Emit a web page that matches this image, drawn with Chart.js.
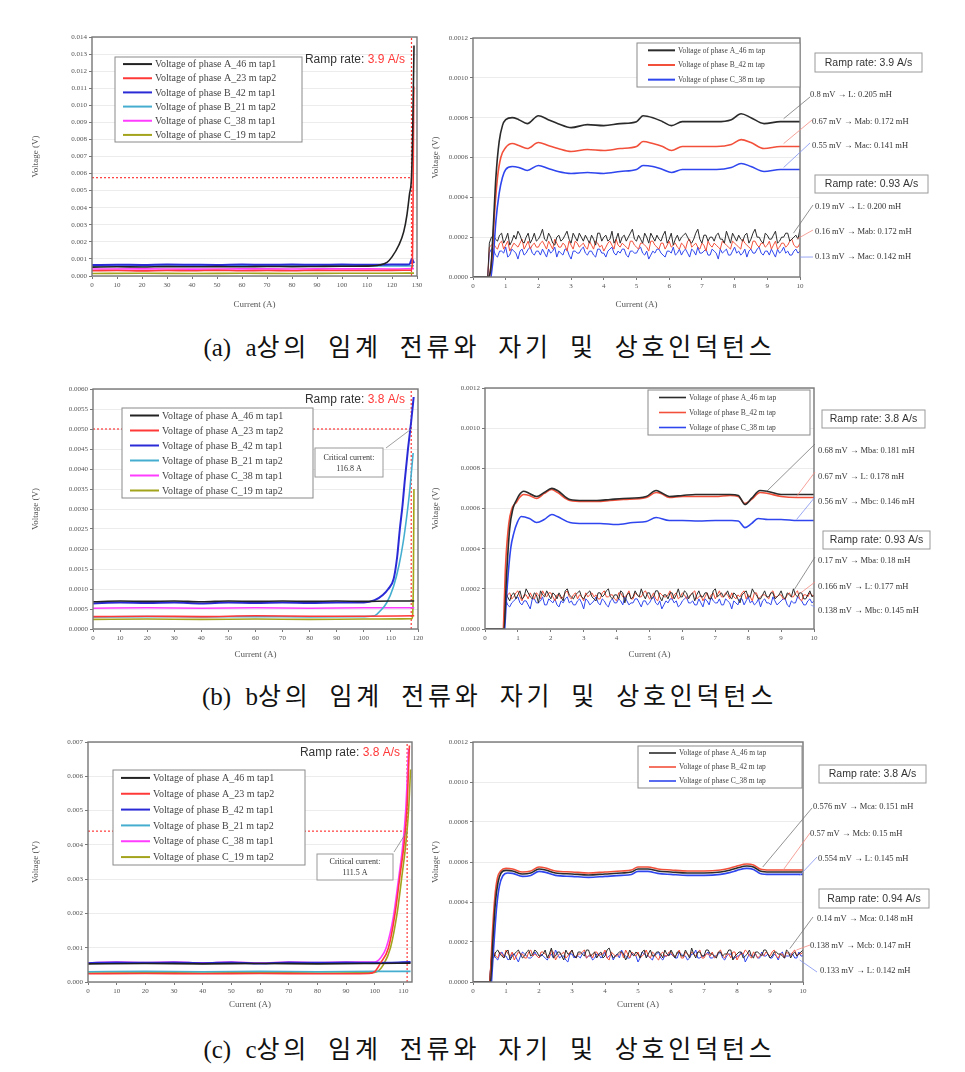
<!DOCTYPE html>
<html>
<head>
<meta charset="utf-8">
<script src="https://cdn.jsdelivr.net/npm/chart.js@4.4.1/dist/chart.umd.min.js"></script>
<style>
  body { margin: 0; background: #fff; width: 965px; height: 1072px; position: relative; overflow: hidden; }
  canvas { position: absolute; }
  .cap {
    position: absolute; left: 7px; width: 965px; text-align: center;
    font-family: 'Liberation Serif', 'Noto Sans CJK KR', serif;
    font-size: 25px; line-height: 28px; letter-spacing: 3.8px; word-spacing: 8px; color: #111;
  }
  .cap span { letter-spacing: 0; }
</style>
</head>
<body>
<canvas id="aLeft"  width="400" height="310" style="left:30px;top:0px"></canvas>
<canvas id="aRight" width="530" height="310" style="left:430px;top:0px"></canvas>
<div class="cap" style="top:334px"><span>(a) a</span>상의 임계 전류와 자기 및 상호인덕턴스</div>
<canvas id="bLeft"  width="400" height="300" style="left:30px;top:360px"></canvas>
<canvas id="bRight" width="530" height="300" style="left:430px;top:360px"></canvas>
<div class="cap" style="top:683px"><span>(b) b</span>상의 임계 전류와 자기 및 상호인덕턴스</div>
<canvas id="cLeft"  width="400" height="300" style="left:30px;top:710px"></canvas>
<canvas id="cRight" width="530" height="300" style="left:430px;top:710px"></canvas>
<div class="cap" style="top:1036px"><span>(c) c</span>상의 임계 전류와 자기 및 상호인덕턴스</div>

<script>
// ── left panels: voltage (V) vs current (A), [current, voltage] pairs ──
const PA_A46_T1 = [[0,0.00052],[10,0.00054],[20,0.00053],[30,0.00055],[40,0.00054],[50,0.00055],[60,0.00054],[70,0.00056],[80,0.00055],[90,0.00056],[100,0.00057],[110,0.00058],[115,0.00064],[118,0.0008],[120,0.00112],[122.7,0.0018],[124.7,0.0026],[126,0.0036],[127,0.0048],[127.8,0.0058],[128.3,0.0086],[128.8,0.0135]];
const PA_A23_T2 = [[0,0.00031],[10,0.00032],[20,0.0003],[30,0.00032],[40,0.00031],[50,0.00033],[60,0.00031],[70,0.00032],[80,0.00031],[90,0.00033],[100,0.00032],[110,0.00032],[120,0.00033],[127.5,0.00034],[128.1,0.0006],[128.4,0.004],[128.7,0.0111]];
const PA_B42_T1 = [[0,0.00064],[10,0.00066],[20,0.00065],[30,0.00067],[40,0.00066],[50,0.00065],[60,0.00067],[70,0.00066],[80,0.00067],[90,0.00066],[100,0.00067],[110,0.00066],[120,0.00067],[127,0.00069],[128,0.001],[128.8,0.00075]];
const PA_B21_T2 = [[0,0.00058],[20,0.00059],[40,0.00058],[60,0.0006],[80,0.00059],[100,0.0006],[120,0.00059],[128.8,0.0006]];
const PA_C38_T1 = [[0,0.00041],[20,0.00042],[40,0.0004],[60,0.00042],[80,0.00041],[100,0.00042],[120,0.00041],[128.8,0.00043]];
const PA_C19_T2 = [[0,0.00015],[20,0.00016],[40,0.00015],[60,0.00016],[80,0.00015],[100,0.00016],[120,0.00016],[128.8,0.00017]];
const PA_CRIT = [127.8, 0.00576];

const PB_A46_T1 = [[0,0.00068],[10,0.0007],[20,0.00069],[30,0.0007],[40,0.00068],[50,0.0007],[60,0.00069],[70,0.0007],[80,0.00069],[90,0.0007],[100,0.00069],[110,0.0007],[118.6,0.0007]];
const PB_A23_T2 = [[0,0.00031],[20,0.00032],[40,0.00031],[60,0.00033],[80,0.00032],[100,0.00032],[118.6,0.00033]];
const PB_B42_T1 = [[0,0.00064],[10,0.00066],[20,0.00065],[30,0.00066],[40,0.00064],[50,0.00066],[60,0.00065],[70,0.00066],[80,0.00065],[90,0.00066],[100,0.00066],[104,0.00072],[107,0.00085],[109,0.001],[111,0.00125],[112.3,0.0018],[113.3,0.0025],[114.3,0.0031],[115.1,0.0037],[116.3,0.0045],[117.5,0.0052],[118.4,0.0058]];
const PB_B21_T2 = [[0,0.0003],[20,0.00031],[40,0.0003],[60,0.00031],[80,0.0003],[100,0.00031],[104,0.00033],[106,0.00045],[108.4,0.00065],[111,0.00107],[113,0.0016],[114.6,0.0022],[116,0.0029],[117,0.0035],[118.2,0.0044]];
const PB_C38_T1 = [[0,0.00052],[20,0.00053],[40,0.00052],[60,0.00053],[80,0.00052],[100,0.00053],[118.6,0.00053]];
const PB_C19_T2 = [[0,0.00024],[20,0.00025],[40,0.00024],[60,0.00025],[80,0.00024],[100,0.00025],[117.8,0.00026],[118.3,0.0012],[118.5,0.0035]];
const PB_CRIT = [117.5, 0.005];

const PC_A46_T1 = [[0,0.00053],[20,0.00054],[40,0.00053],[60,0.00054],[80,0.00053],[100,0.00054],[112.5,0.00055]];
const PC_A23_T2 = [[0,0.00024],[20,0.00025],[40,0.00024],[60,0.00025],[80,0.00024],[98,0.00025],[100,0.0003],[102,0.00055],[104.8,0.001],[107.1,0.002],[108.8,0.0031],[110.2,0.004],[111.2,0.005],[112.1,0.0069]];
const PC_B42_T1 = [[0,0.00055],[10,0.00057],[20,0.00056],[30,0.00057],[40,0.00055],[50,0.00057],[60,0.00054],[70,0.00057],[80,0.00056],[90,0.00057],[100,0.00056],[112.5,0.00058]];
const PC_B21_T2 = [[0,0.0003],[20,0.00031],[40,0.0003],[60,0.00031],[80,0.0003],[100,0.00031],[112.5,0.00031]];
const PC_C38_T1 = [[0,0.00056],[10,0.00058],[20,0.00057],[30,0.00058],[40,0.00056],[50,0.00058],[60,0.00055],[70,0.00058],[80,0.00057],[90,0.00058],[100,0.00058],[102,0.0007],[104,0.001],[106.5,0.0019],[108.3,0.003],[109.8,0.004],[110.8,0.005],[111.8,0.0068]];
const PC_C19_T2 = [[0,0.00026],[20,0.00027],[40,0.00026],[60,0.00027],[80,0.00026],[100,0.00028],[103,0.0005],[105.5,0.001],[107.8,0.002],[109.5,0.0031],[110.8,0.004],[111.8,0.005],[112.5,0.0062]];
const PC_CRIT = [111.3, 0.0044];

// ── right panels: fast ramp traces, [current A, voltage mV] ──
const RA_A46 = [[0,0],[0.45,0],[0.55,0.05],[0.62,0.25],[0.7,0.5],[0.8,0.68],[0.9,0.76],[1.0,0.79],[1.2,0.8],[1.4,0.79],[1.66,0.77],[2.0,0.81],[2.3,0.79],[2.6,0.77],[3.0,0.75],[3.5,0.765],[4.0,0.76],[4.5,0.77],[5.0,0.78],[5.2,0.81],[5.5,0.8],[5.8,0.78],[6.07,0.76],[6.4,0.78],[7.0,0.78],[7.45,0.78],[7.9,0.79],[8.2,0.82],[8.5,0.8],[8.9,0.77],[9.4,0.78],[10,0.78]];
const RA_B42 = [[0.5,0],[0.58,0.1],[0.65,0.3],[0.75,0.5],[0.85,0.6],[1.0,0.65],[1.2,0.67],[1.4,0.66],[1.66,0.645],[2.0,0.675],[2.3,0.66],[2.6,0.645],[3.0,0.63],[3.5,0.64],[4.0,0.635],[4.5,0.645],[5.0,0.655],[5.2,0.68],[5.5,0.67],[5.8,0.655],[6.07,0.635],[6.4,0.655],[7.0,0.655],[7.45,0.655],[7.9,0.665],[8.2,0.69],[8.5,0.675],[8.9,0.645],[9.4,0.655],[10,0.655]];
const RA_C38 = [[0.55,0],[0.62,0.1],[0.7,0.28],[0.8,0.42],[0.9,0.5],[1.0,0.54],[1.2,0.555],[1.4,0.55],[1.66,0.535],[2.0,0.56],[2.3,0.545],[2.6,0.53],[3.0,0.52],[3.5,0.525],[4.0,0.52],[4.5,0.53],[5.0,0.54],[5.2,0.56],[5.5,0.555],[5.8,0.54],[6.07,0.525],[6.4,0.54],[7.0,0.54],[7.45,0.54],[7.9,0.55],[8.2,0.57],[8.5,0.555],[8.9,0.53],[9.4,0.54],[10,0.54]];

const RB_A46 = [[0,0],[0.58,0],[0.65,0.25],[0.75,0.5],[0.85,0.6],[0.95,0.64],[1.05,0.67],[1.17,0.686],[1.35,0.675],[1.57,0.66],[1.8,0.68],[2.03,0.7],[2.2,0.69],[2.58,0.645],[3.0,0.64],[3.4,0.64],[3.8,0.645],[4.2,0.65],[4.9,0.66],[5.2,0.69],[5.35,0.68],[5.6,0.66],[6.0,0.665],[6.4,0.67],[7.0,0.67],[7.45,0.67],[7.7,0.665],[7.9,0.62],[8.1,0.65],[8.36,0.69],[8.6,0.685],[9.0,0.67],[9.5,0.67],[10,0.67]];
const RB_B42 = [[0.56,0],[0.62,0.3],[0.72,0.52],[0.82,0.6],[0.95,0.63],[1.05,0.655],[1.17,0.67],[1.35,0.665],[1.57,0.65],[1.8,0.675],[2.03,0.695],[2.2,0.68],[2.58,0.64],[3.0,0.635],[3.4,0.635],[3.8,0.64],[4.2,0.645],[4.9,0.655],[5.2,0.68],[5.35,0.675],[5.6,0.655],[6.0,0.66],[6.4,0.66],[7.0,0.66],[7.45,0.665],[7.7,0.66],[7.9,0.625],[8.1,0.645],[8.36,0.68],[8.6,0.675],[9.0,0.66],[9.5,0.655],[10,0.655]];
const RB_C38 = [[0.6,0],[0.68,0.22],[0.78,0.4],[0.88,0.48],[0.98,0.53],[1.1,0.56],[1.35,0.55],[1.57,0.53],[1.8,0.545],[2.03,0.57],[2.2,0.56],[2.58,0.53],[3.0,0.525],[3.5,0.525],[4.0,0.52],[4.5,0.53],[4.9,0.535],[5.2,0.555],[5.6,0.54],[6.0,0.54],[6.5,0.538],[7.0,0.54],[7.5,0.54],[7.7,0.538],[7.9,0.505],[8.1,0.525],[8.3,0.55],[8.6,0.545],[9.0,0.545],[9.5,0.54],[10,0.54]];

const RC_A46 = [[0,0],[0.53,0],[0.6,0.2],[0.68,0.4],[0.76,0.5],[0.85,0.545],[1.0,0.558],[1.2,0.555],[1.5,0.54],[1.75,0.545],[2.0,0.565],[2.2,0.56],[2.5,0.545],[3.0,0.54],[3.5,0.535],[4.0,0.54],[4.5,0.545],[4.8,0.55],[5.0,0.565],[5.3,0.565],[5.6,0.555],[6.0,0.55],[6.5,0.545],[7.0,0.545],[7.5,0.55],[7.8,0.56],[8.0,0.57],[8.3,0.58],[8.5,0.575],[8.7,0.555],[9.0,0.55],[9.5,0.55],[10,0.55]];
const RC_B42 = [[0.52,0],[0.58,0.22],[0.66,0.42],[0.74,0.52],[0.84,0.555],[1.0,0.568],[1.2,0.565],[1.5,0.55],[1.75,0.555],[2.0,0.575],[2.2,0.57],[2.5,0.555],[3.0,0.55],[3.5,0.545],[4.0,0.55],[4.5,0.555],[4.8,0.56],[5.0,0.575],[5.3,0.575],[5.6,0.565],[6.0,0.56],[6.5,0.555],[7.0,0.555],[7.5,0.56],[7.8,0.57],[8.0,0.58],[8.3,0.59],[8.5,0.585],[8.7,0.565],[9.0,0.56],[9.5,0.56],[10,0.56]];
const RC_C38 = [[0.56,0],[0.63,0.18],[0.72,0.38],[0.8,0.48],[0.9,0.53],[1.05,0.545],[1.2,0.543],[1.5,0.528],[1.75,0.533],[2.0,0.553],[2.2,0.548],[2.5,0.533],[3.0,0.528],[3.5,0.523],[4.0,0.528],[4.5,0.533],[4.8,0.538],[5.0,0.553],[5.3,0.553],[5.6,0.543],[6.0,0.538],[6.5,0.533],[7.0,0.533],[7.5,0.538],[7.8,0.548],[8.0,0.558],[8.3,0.568],[8.5,0.563],[8.7,0.543],[9.0,0.538],[9.5,0.538],[10,0.538]];

// ── slow ramp (noisy) traces, mV; samples at NOISE_I plus in-between samples at NOISE_I_MID ──
const NOISE_I = [0.5,0.625,0.75,0.875,1,1.125,1.25,1.375,1.5,1.625,1.75,
  1.875,2,2.125,2.25,2.375,2.5,2.625,2.75,2.875,3,3.125,
  3.25,3.375,3.5,3.625,3.75,3.875,4,4.125,4.25,4.375,4.5,
  4.625,4.75,4.875,5,5.125,5.25,5.375,5.5,5.625,5.75,5.875,
  6,6.125,6.25,6.375,6.5,6.625,6.75,6.875,7,7.125,7.25,
  7.375,7.5,7.625,7.75,7.875,8,8.125,8.25,8.375,8.5,8.625,
  8.75,8.875,9,9.125,9.25,9.375,9.5,9.625,9.75,9.875,10];
const NOISE_I_MID = [0.5625,0.6875,0.8125,0.9375,1.0625,1.1875,1.3125,1.4375,1.5625,1.6875,1.8125,
  1.9375,2.0625,2.1875,2.3125,2.4375,2.5625,2.6875,2.8125,2.9375,3.0625,3.1875,
  3.3125,3.4375,3.5625,3.6875,3.8125,3.9375,4.0625,4.1875,4.3125,4.4375,4.5625,
  4.6875,4.8125,4.9375,5.0625,5.1875,5.3125,5.4375,5.5625,5.6875,5.8125,5.9375,
  6.0625,6.1875,6.3125,6.4375,6.5625,6.6875,6.8125,6.9375,7.0625,7.1875,7.3125,
  7.4375,7.5625,7.6875,7.8125,7.9375,8.0625,8.1875,8.3125,8.4375,8.5625,8.6875,
  8.8125,8.9375,9.0625,9.1875,9.3125,9.4375,9.5625,9.6875,9.8125,9.9375];

const NA_A46 = [0.17,0.21,0.18,0.22,0.19,0.16,0.21,0.23,0.18,0.20,0.17,
  0.22,0.19,0.24,0.18,0.20,0.16,0.21,0.19,0.23,0.17,0.20,
  0.22,0.18,0.19,0.21,0.16,0.22,0.20,0.18,0.23,0.19,0.17,
  0.21,0.20,0.24,0.18,0.19,0.22,0.17,0.20,0.21,0.18,0.23,
  0.19,0.16,0.21,0.20,0.22,0.18,0.19,0.24,0.17,0.21,0.20,
  0.18,0.22,0.19,0.23,0.17,0.20,0.21,0.18,0.22,0.19,0.24,
  0.20,0.17,0.21,0.19,0.23,0.18,0.20,0.22,0.19,0.21,0.24];
const NA_A46_M = [0.20,0.19,0.21,0.17,0.22,0.18,0.19,0.21,0.17,0.22,0.19,
  0.18,0.21,0.19,0.22,0.17,0.20,0.18,0.21,0.19,0.22,0.18,
  0.20,0.21,0.17,0.19,0.22,0.18,0.21,0.19,0.17,0.22,0.20,
  0.18,0.22,0.19,0.21,0.17,0.20,0.22,0.18,0.19,0.21,0.17,
  0.22,0.19,0.18,0.21,0.20,0.17,0.22,0.19,0.21,0.18,0.20,
  0.21,0.19,0.17,0.20,0.22,0.18,0.19,0.21,0.17,0.22,0.20,
  0.18,0.22,0.19,0.21,0.17,0.20,0.22,0.18,0.20,0.19];
const NA_B42 = [0.15,0.17,0.14,0.18,0.16,0.13,0.17,0.15,0.19,0.16,0.14,
  0.17,0.15,0.18,0.14,0.16,0.19,0.15,0.17,0.13,0.16,0.18,
  0.15,0.17,0.14,0.16,0.18,0.15,0.13,0.17,0.16,0.19,0.15,
  0.16,0.14,0.18,0.15,0.17,0.16,0.13,0.18,0.15,0.17,0.14,
  0.18,0.16,0.15,0.17,0.14,0.19,0.16,0.15,0.17,0.13,0.16,
  0.17,0.15,0.18,0.16,0.14,0.17,0.15,0.19,0.16,0.14,0.18,
  0.15,0.17,0.16,0.14,0.18,0.15,0.17,0.16,0.19,0.15,0.17];
const NA_B42_M = [0.16,0.15,0.17,0.14,0.18,0.15,0.16,0.17,0.14,0.18,0.16,
  0.15,0.17,0.16,0.18,0.14,0.17,0.15,0.16,0.18,0.14,0.17,
  0.16,0.15,0.18,0.14,0.17,0.16,0.15,0.18,0.14,0.16,0.17,
  0.15,0.18,0.16,0.14,0.17,0.15,0.18,0.16,0.14,0.17,0.16,
  0.15,0.17,0.14,0.16,0.18,0.15,0.17,0.14,0.16,0.18,0.15,
  0.16,0.14,0.17,0.15,0.18,0.16,0.14,0.17,0.15,0.18,0.16,
  0.17,0.15,0.18,0.16,0.14,0.17,0.15,0.18,0.16,0.15];
const NA_C38 = [0.12,0.14,0.10,0.13,0.15,0.11,0.13,0.09,0.14,0.12,0.15,
  0.11,0.13,0.14,0.10,0.12,0.15,0.13,0.11,0.14,0.09,0.13,
  0.12,0.15,0.11,0.13,0.10,0.14,0.12,0.13,0.15,0.11,0.12,
  0.14,0.10,0.13,0.12,0.15,0.11,0.09,0.13,0.14,0.12,0.10,
  0.13,0.15,0.12,0.11,0.14,0.10,0.13,0.15,0.12,0.14,0.11,
  0.13,0.09,0.12,0.14,0.11,0.15,0.13,0.12,0.10,0.14,0.12,
  0.15,0.11,0.13,0.14,0.10,0.12,0.15,0.13,0.11,0.14,0.13];
const NA_C38_M = [0.14,0.11,0.13,0.12,0.10,0.14,0.12,0.13,0.11,0.14,0.12,
  0.13,0.11,0.12,0.14,0.13,0.10,0.12,0.14,0.11,0.13,0.12,
  0.14,0.12,0.13,0.11,0.14,0.12,0.10,0.14,0.12,0.13,0.14,
  0.11,0.13,0.12,0.14,0.12,0.13,0.11,0.12,0.14,0.11,0.13,
  0.12,0.11,0.14,0.13,0.12,0.14,0.11,0.12,0.13,0.11,0.14,
  0.12,0.14,0.13,0.11,0.13,0.12,0.11,0.14,0.13,0.12,0.14,
  0.12,0.13,0.11,0.12,0.14,0.13,0.12,0.11,0.13,0.12];

const NB_A46 = [0.16,0.19,0.14,0.18,0.17,0.15,0.20,0.16,0.18,0.13,0.17,
  0.19,0.15,0.17,0.18,0.14,0.20,0.16,0.17,0.19,0.15,0.18,
  0.16,0.14,0.18,0.17,0.20,0.15,0.17,0.19,0.13,0.18,0.16,
  0.17,0.20,0.15,0.18,0.16,0.19,0.14,0.17,0.18,0.15,0.20,
  0.16,0.18,0.17,0.14,0.19,0.16,0.18,0.15,0.20,0.17,0.16,
  0.19,0.15,0.17,0.13,0.18,0.16,0.20,0.17,0.15,0.19,0.16,
  0.18,0.16,0.19,0.15,0.17,0.20,0.16,0.18,0.15,0.19,0.17];
const NB_A46_M = [0.18,0.16,0.17,0.15,0.19,0.16,0.18,0.15,0.17,0.19,0.16,
  0.17,0.18,0.15,0.16,0.19,0.17,0.15,0.18,0.16,0.17,0.19,
  0.15,0.18,0.16,0.19,0.16,0.17,0.15,0.18,0.17,0.15,0.19,
  0.16,0.17,0.18,0.15,0.19,0.16,0.17,0.15,0.18,0.17,0.16,
  0.19,0.15,0.18,0.17,0.16,0.18,0.15,0.19,0.16,0.18,0.17,
  0.16,0.18,0.15,0.17,0.19,0.16,0.18,0.15,0.17,0.16,0.18,
  0.15,0.17,0.16,0.18,0.16,0.17,0.18,0.15,0.17,0.16];
const NB_B42 = [0.17,0.15,0.18,0.16,0.19,0.14,0.17,0.18,0.15,0.17,0.19,
  0.16,0.18,0.14,0.17,0.16,0.19,0.15,0.18,0.17,0.14,0.16,
  0.18,0.17,0.15,0.19,0.16,0.17,0.14,0.18,0.16,0.19,0.15,
  0.17,0.16,0.19,0.15,0.18,0.14,0.17,0.16,0.19,0.17,0.15,
  0.18,0.15,0.17,0.19,0.16,0.14,0.18,0.17,0.15,0.19,0.16,
  0.17,0.18,0.15,0.16,0.19,0.17,0.14,0.18,0.16,0.17,0.15,
  0.19,0.16,0.17,0.15,0.18,0.16,0.19,0.14,0.17,0.18,0.16];
const NB_B42_M = [0.16,0.17,0.15,0.18,0.16,0.17,0.15,0.16,0.18,0.15,0.17,
  0.18,0.16,0.17,0.15,0.18,0.16,0.17,0.15,0.16,0.18,0.17,
  0.16,0.15,0.18,0.16,0.17,0.15,0.18,0.16,0.17,0.15,0.18,
  0.16,0.18,0.17,0.16,0.15,0.18,0.16,0.17,0.15,0.18,0.16,
  0.17,0.16,0.18,0.15,0.17,0.16,0.15,0.18,0.17,0.16,0.18,
  0.15,0.16,0.17,0.18,0.15,0.16,0.18,0.15,0.17,0.16,0.18,
  0.16,0.17,0.15,0.17,0.16,0.18,0.15,0.17,0.16,0.17];
const NB_C38 = [0.13,0.15,0.11,0.14,0.16,0.12,0.14,0.10,0.15,0.13,0.16,
  0.12,0.14,0.15,0.11,0.13,0.16,0.14,0.12,0.15,0.10,0.14,
  0.13,0.16,0.12,0.14,0.11,0.15,0.13,0.14,0.16,0.12,0.13,
  0.15,0.11,0.14,0.13,0.16,0.12,0.10,0.14,0.15,0.13,0.11,
  0.14,0.16,0.13,0.12,0.15,0.11,0.14,0.16,0.13,0.15,0.12,
  0.14,0.10,0.13,0.15,0.12,0.16,0.14,0.13,0.11,0.15,0.13,
  0.16,0.12,0.14,0.15,0.11,0.13,0.16,0.14,0.12,0.15,0.14];
const NB_C38_M = [0.14,0.12,0.13,0.15,0.13,0.14,0.12,0.15,0.13,0.14,0.12,
  0.15,0.13,0.12,0.14,0.15,0.13,0.12,0.14,0.13,0.15,0.12,
  0.14,0.13,0.15,0.12,0.14,0.13,0.15,0.12,0.14,0.13,0.15,
  0.13,0.14,0.12,0.15,0.13,0.14,0.12,0.13,0.15,0.14,0.12,
  0.15,0.13,0.14,0.12,0.13,0.15,0.12,0.14,0.13,0.12,0.15,
  0.13,0.14,0.12,0.15,0.14,0.13,0.12,0.15,0.14,0.13,0.12,
  0.14,0.13,0.15,0.12,0.14,0.13,0.15,0.12,0.14,0.13];

const NC_A46 = [0.14,0.12,0.16,0.13,0.15,0.11,0.14,0.16,0.12,0.15,0.13,
  0.16,0.13,0.14,0.12,0.17,0.13,0.15,0.11,0.14,0.16,0.12,
  0.15,0.13,0.16,0.14,0.12,0.15,0.13,0.17,0.12,0.14,0.15,
  0.11,0.16,0.13,0.14,0.15,0.12,0.16,0.13,0.15,0.12,0.14,
  0.16,0.12,0.15,0.13,0.14,0.17,0.12,0.15,0.13,0.16,0.14,
  0.12,0.15,0.14,0.16,0.11,0.14,0.15,0.13,0.16,0.12,0.15,
  0.13,0.16,0.12,0.15,0.14,0.13,0.16,0.12,0.15,0.14,0.16];
const NC_A46_M = [0.13,0.15,0.14,0.12,0.16,0.13,0.15,0.14,0.13,0.16,0.14,
  0.15,0.13,0.16,0.14,0.12,0.15,0.13,0.16,0.14,0.13,0.15,
  0.14,0.16,0.13,0.15,0.14,0.12,0.16,0.14,0.13,0.15,0.14,
  0.13,0.14,0.15,0.12,0.16,0.14,0.13,0.15,0.14,0.16,0.13,
  0.14,0.15,0.13,0.16,0.12,0.14,0.15,0.13,0.16,0.14,0.13,
  0.15,0.13,0.14,0.16,0.13,0.15,0.12,0.14,0.13,0.15,0.14,
  0.16,0.14,0.13,0.15,0.14,0.12,0.15,0.14,0.13,0.15];
const NC_B42 = [0.13,0.15,0.12,0.14,0.16,0.13,0.11,0.15,0.14,0.12,0.16,
  0.14,0.12,0.15,0.13,0.16,0.11,0.14,0.15,0.13,0.16,0.12,
  0.14,0.16,0.13,0.12,0.15,0.14,0.16,0.11,0.14,0.13,0.15,
  0.16,0.12,0.14,0.15,0.13,0.16,0.12,0.14,0.11,0.15,0.13,
  0.15,0.13,0.16,0.12,0.14,0.15,0.13,0.16,0.12,0.14,0.15,
  0.13,0.16,0.12,0.14,0.15,0.11,0.14,0.16,0.13,0.15,0.12,
  0.14,0.15,0.13,0.16,0.12,0.14,0.15,0.13,0.16,0.14,0.15];
const NC_B42_M = [0.14,0.13,0.15,0.12,0.14,0.15,0.13,0.14,0.12,0.15,0.13,
  0.13,0.15,0.14,0.12,0.15,0.13,0.14,0.12,0.15,0.13,0.14,
  0.15,0.12,0.14,0.15,0.13,0.14,0.12,0.15,0.13,0.14,0.12,
  0.14,0.15,0.13,0.12,0.14,0.13,0.15,0.12,0.14,0.13,0.15,
  0.13,0.14,0.12,0.15,0.13,0.14,0.15,0.12,0.14,0.13,0.12,
  0.15,0.13,0.14,0.12,0.15,0.13,0.14,0.15,0.12,0.14,0.13,
  0.13,0.14,0.15,0.13,0.14,0.12,0.14,0.15,0.13,0.14];
const NC_C38 = [0.12,0.14,0.11,0.15,0.13,0.12,0.14,0.10,0.15,0.13,0.12,
  0.15,0.12,0.13,0.11,0.14,0.16,0.12,0.13,0.10,0.14,0.13,
  0.12,0.15,0.13,0.11,0.14,0.12,0.15,0.13,0.11,0.14,0.16,
  0.13,0.12,0.14,0.10,0.15,0.13,0.12,0.14,0.15,0.11,0.13,
  0.14,0.12,0.15,0.13,0.11,0.14,0.16,0.12,0.13,0.15,0.12,
  0.13,0.15,0.11,0.14,0.12,0.13,0.15,0.10,0.14,0.13,0.12,
  0.15,0.13,0.12,0.14,0.11,0.15,0.13,0.14,0.12,0.15,0.13];
const NC_C38_M = [0.13,0.12,0.14,0.13,0.11,0.14,0.12,0.13,0.14,0.12,0.13,
  0.13,0.14,0.12,0.13,0.12,0.14,0.13,0.11,0.14,0.12,0.13,
  0.14,0.12,0.13,0.12,0.14,0.13,0.12,0.14,0.13,0.12,0.14,
  0.12,0.14,0.13,0.12,0.14,0.13,0.11,0.14,0.12,0.13,0.14,
  0.13,0.12,0.14,0.13,0.12,0.14,0.12,0.13,0.14,0.12,0.13,
  0.14,0.12,0.13,0.14,0.12,0.13,0.14,0.12,0.13,0.14,0.12,
  0.13,0.14,0.12,0.13,0.14,0.12,0.13,0.14,0.12,0.13];
const NOISE_START_A = 0.45, NOISE_START_B = 0.58, NOISE_START_C = 0.5;

const LEFT_LABELS  = ['Voltage of phase A_46 m tap1', 'Voltage of phase A_23 m tap2', 'Voltage of phase B_42 m tap1',
                      'Voltage of phase B_21 m tap2', 'Voltage of phase C_38 m tap1', 'Voltage of phase C_19 m tap2'];
const RIGHT_LABELS = ['Voltage of phase A_46 m tap', 'Voltage of phase B_42 m tap', 'Voltage of phase C_38 m tap'];

// ── style ──
const C = {
  black: '#222222', red: '#ff3838', blue: '#2a2ad6', cyan: '#45aed0', magenta: '#ff3cff', olive: '#a3a31c',
  rBlack: '#2b2b2b', rRed: '#f2503a', rBlue: '#2f46ee', text: '#333', axis: '#777'
};
Chart.defaults.font.family = "'Liberation Serif', 'Times New Roman', serif";
Chart.defaults.font.size = 7;
Chart.defaults.color = '#555';

const toXY = (pairs, k = 1) => pairs.map(([x, y]) => ({ x, y: y * k }));

function line(label, pairs, color, extra = {}) {
  return Object.assign({
    label, data: toXY(pairs, extra.k || 1), borderColor: color, backgroundColor: color,
    borderWidth: 1.6, pointRadius: 0, cubicInterpolationMode: 'monotone', fill: false
  }, extra);
}

function noise(label, start, vals, mids, color) {
  const pts = [];
  NOISE_I.forEach((x, i) => { if (x > start && vals[i] !== undefined) pts.push([x, vals[i]]); });
  NOISE_I_MID.forEach((x, i) => { if (x > start && mids[i] !== undefined) pts.push([x, mids[i]]); });
  pts.sort((a, b) => a[0] - b[0]);
  return line(label, [[0, 0], [start, 0]].concat(pts), color,
    { k: 1e-3, borderWidth: 1, cubicInterpolationMode: 'default', tension: 0 });
}

function critLines(crit, yMax) {
  const st = { borderWidth: 1.2, borderDash: [2, 2], cubicInterpolationMode: 'default', tension: 0 };
  return [
    line('_critH', [[0, crit[1]], [crit[0], crit[1]]], C.red, st),
    line('_critV', [[crit[0], 0], [crit[0], yMax]], C.red, st)
  ];
}

// ── plugins ──
const framePlugin = {
  id: 'frame',
  afterDraw(chart) {
    const { ctx, chartArea: a } = chart;
    ctx.save();
    ctx.strokeStyle = C.axis;
    ctx.lineWidth = 1.4;
    ctx.strokeRect(a.left, a.top, a.right - a.left, a.bottom - a.top);
    ctx.restore();
  }
};

const boxLegendPlugin = {
  id: 'boxLegend',
  afterDraw(chart, args, o) {
    if (!o || !o.w) return;
    const ctx = chart.ctx;
    const items = chart.data.datasets.filter(d => !d.label.startsWith('_'));
    ctx.save();
    ctx.fillStyle = '#fff';
    ctx.fillRect(o.x, o.y, o.w, o.h);
    ctx.strokeStyle = '#8a8a8a';
    ctx.lineWidth = 1;
    ctx.strokeRect(o.x, o.y, o.w, o.h);
    const rowH = o.h / items.length;
    ctx.font = o.font;
    ctx.textBaseline = 'middle';
    items.forEach((d, i) => {
      const cy = o.y + rowH * (i + 0.5);
      ctx.strokeStyle = d.borderColor;
      ctx.lineWidth = o.lineW;
      ctx.beginPath();
      ctx.moveTo(o.x + o.l0, cy);
      ctx.lineTo(o.x + o.l1, cy);
      ctx.stroke();
      ctx.fillStyle = '#444';
      ctx.fillText(d.label, o.x + o.tx, cy + 0.5);
    });
    ctx.restore();
  }
};

const notesPlugin = {
  id: 'notes',
  afterDraw(chart, args, o) {
    if (!o) return;
    const { ctx, scales: { x, y } } = chart;
    ctx.save();
    (o.leaders || []).forEach(l => {
      ctx.strokeStyle = l.color;
      ctx.lineWidth = 0.8;
      ctx.beginPath();
      ctx.moveTo(x.getPixelForValue(l.at[0]), y.getPixelForValue(l.at[1]));
      ctx.lineTo(l.to[0], l.to[1]);
      ctx.stroke();
    });
    (o.boxes || []).forEach(b => {
      ctx.fillStyle = '#fff';
      ctx.fillRect(b.x, b.y, b.w, b.h);
      ctx.strokeStyle = '#9a9a9a';
      ctx.lineWidth = 1;
      ctx.strokeRect(b.x, b.y, b.w, b.h);
    });
    ctx.textBaseline = 'middle';
    (o.texts || []).forEach(t => {
      ctx.font = t.font || o.font;
      ctx.fillStyle = t.color || C.text;
      ctx.textAlign = t.align || 'left';
      ctx.fillText(t.text, t.x, t.y);
    });
    (o.rich || []).forEach(r => {
      ctx.font = r.font;
      ctx.textAlign = 'left';
      const total = r.parts.reduce((s, p) => s + ctx.measureText(p.t).width, 0);
      let px = r.x - total;
      r.parts.forEach(p => {
        ctx.fillStyle = p.c;
        ctx.fillText(p.t, px, r.y);
        px += ctx.measureText(p.t).width;
      });
    });
    ctx.restore();
  }
};

// ── panel factory ──
function makePanel(id, p) {
  const el = document.getElementById(id);
  // ticks at whole multiples of the step, up to the axis maximum
  const stepTicks = (max, step) => s => {
    const t = [];
    for (let i = 0; i * step <= max + 1e-9; i++) t.push({ value: +(i * step).toFixed(6) });
    s.ticks = t;
  };
  return new Chart(el, {
    type: 'line',
    data: { datasets: p.datasets },
    plugins: [framePlugin, boxLegendPlugin, notesPlugin],
    options: {
      responsive: false,
      animation: false,
      events: [],
      layout: { padding: { top: p.padTop, right: p.padRight, left: 0, bottom: 0 } },
      plugins: {
        legend: { display: false },
        tooltip: { enabled: false },
        boxLegend: p.legend,
        notes: p.notes
      },
      scales: {
        x: {
          type: 'linear', min: 0, max: p.xMax,
          afterFit: s => { s.height = p.xAxisH; },
          afterBuildTicks: stepTicks(p.xMax, p.xStep),
          ticks: { padding: 2, color: '#555', font: { size: 7 }, maxRotation: 0, autoSkip: false },
          grid: { drawOnChartArea: false, tickLength: 3, color: '#777' },
          border: { display: false },
          title: { display: true, text: 'Current (A)', color: '#555', font: { size: 9 }, padding: { top: 1, bottom: 0 } }
        },
        y: {
          type: 'linear', min: 0, max: p.yMax,
          afterFit: s => { s.width = p.yAxisW; },
          afterBuildTicks: stepTicks(p.yMax, p.yStep),
          ticks: { padding: 2, color: '#555', font: { size: 7 }, autoSkip: false, callback: v => v.toFixed(p.yDigits) },
          grid: { color: '#ececec', tickLength: 3, tickColor: '#777' },
          border: { display: false },
          title: { display: true, text: 'Voltage (V)', color: '#555', font: { size: 9 }, padding: { top: 0, bottom: 1 } }
        }
      }
    }
  });
}

const LEFT_LEGEND_FONT = "10px 'Liberation Serif'";
const RIGHT_LEGEND_FONT = "7.5px 'Liberation Serif'";
const NOTE_FONT = "8.5px 'Liberation Serif'";
const RAMP_FONT = "12px 'Liberation Sans'";
const BOX_FONT = "10.5px 'Liberation Sans'";

function leftSeries(s, crit, yMax) {
  return [
    line(LEFT_LABELS[0], s[0], C.black),
    line(LEFT_LABELS[1], s[1], C.red),
    line(LEFT_LABELS[2], s[2], C.blue, { borderWidth: 2 }),
    line(LEFT_LABELS[3], s[3], C.cyan),
    line(LEFT_LABELS[4], s[4], C.magenta),
    line(LEFT_LABELS[5], s[5], C.olive)
  ].concat(critLines(crit, yMax));
}

function rightSeries(fast, slow, mids, start) {
  return [
    line(RIGHT_LABELS[0], fast[0], C.rBlack, { k: 1e-3 }),
    line(RIGHT_LABELS[1], fast[1], C.rRed, { k: 1e-3 }),
    line(RIGHT_LABELS[2], fast[2], C.rBlue, { k: 1e-3 }),
    noise('_nA', start, slow[0], mids[0], C.rBlack),
    noise('_nB', start, slow[1], mids[1], C.rRed),
    noise('_nC', start, slow[2], mids[2], C.rBlue)
  ];
}

function rightNotes(rampHi, rampLo, lines, leaders) {
  return {
    font: NOTE_FONT,
    boxes: [rampHi.box, rampLo.box],
    texts: [
      { text: rampHi.text, x: rampHi.box.x + rampHi.box.w / 2, y: rampHi.box.y + rampHi.box.h / 2 + 0.5, align: 'center', font: BOX_FONT },
      { text: rampLo.text, x: rampLo.box.x + rampLo.box.w / 2, y: rampLo.box.y + rampLo.box.h / 2 + 0.5, align: 'center', font: BOX_FONT }
    ].concat(lines),
    leaders
  };
}

// ── (a) ──
makePanel('aLeft', {
  xMax: 130, xStep: 10, yMax: 0.014, yStep: 0.001, yDigits: 3,
  yAxisW: 62, xAxisH: 34, padTop: 37, padRight: 13,
  datasets: leftSeries([PA_A46_T1, PA_A23_T2, PA_B42_T1, PA_B21_T2, PA_C38_T1, PA_C19_T2], PA_CRIT, 0.014),
  legend: { x: 85, y: 57, w: 187, h: 85, l0: 8, l1: 37, tx: 40, lineW: 2, font: LEFT_LEGEND_FONT },
  notes: { rich: [{ x: 375, y: 60, font: RAMP_FONT, parts: [{ t: 'Ramp rate: ', c: '#333' }, { t: '3.9 A/s', c: C.red }] }] }
});

makePanel('aRight', {
  xMax: 10, xStep: 1, yMax: 0.0012, yStep: 0.0002, yDigits: 4,
  yAxisW: 43, xAxisH: 33, padTop: 38, padRight: 160,
  datasets: rightSeries([RA_A46, RA_B42, RA_C38], [NA_A46, NA_B42, NA_C38], [NA_A46_M, NA_B42_M, NA_C38_M], NOISE_START_A),
  legend: { x: 207, y: 43, w: 163, h: 44, l0: 11, l1: 38, tx: 41, lineW: 2, font: RIGHT_LEGEND_FONT },
  notes: rightNotes(
    { box: { x: 385, y: 53, w: 107, h: 19 }, text: 'Ramp rate: 3.9 A/s' },
    { box: { x: 385, y: 175, w: 113, h: 18 }, text: 'Ramp rate: 0.93 A/s' },
    [
      { text: '0.8 mV → L: 0.205 mH', x: 380, y: 95 },
      { text: '0.67 mV → Mab: 0.172 mH', x: 382, y: 122 },
      { text: '0.55 mV → Mac: 0.141 mH', x: 382, y: 146 },
      { text: '0.19 mV → L: 0.200 mH', x: 385, y: 207 },
      { text: '0.16 mV → Mab: 0.172 mH', x: 385, y: 232 },
      { text: '0.13 mV → Mac: 0.142 mH', x: 385, y: 257 }
    ],
    [
      { at: [9.5, 0.000795], to: [380, 97], color: '#777' },
      { at: [9.5, 0.00067], to: [382, 120], color: '#f28a80' },
      { at: [9.5, 0.00055], to: [380, 143], color: '#8090f0' },
      { at: [9.8, 0.00022], to: [383, 205], color: '#777' },
      { at: [9.9, 0.00019], to: [383, 230], color: '#f28a80' },
      { at: [10, 0.0001], to: [383, 257], color: '#8090f0' }
    ])
});

// ── (b) ──
makePanel('bLeft', {
  xMax: 120, xStep: 10, yMax: 0.006, yStep: 0.0005, yDigits: 4,
  yAxisW: 63, xAxisH: 31, padTop: 29, padRight: 12,
  datasets: leftSeries([PB_A46_T1, PB_A23_T2, PB_B42_T1, PB_B21_T2, PB_C38_T1, PB_C19_T2], PB_CRIT, 0.006),
  legend: { x: 92, y: 48, w: 191, h: 90, l0: 8, l1: 37, tx: 40, lineW: 2, font: LEFT_LEGEND_FONT },
  notes: {
    font: "8px 'Liberation Serif'",
    leaders: [{ at: PB_CRIT, to: [356, 88], color: '#888' }],
    boxes: [{ x: 285, y: 88, w: 68, h: 29 }],
    texts: [
      { text: 'Critical current:', x: 319, y: 98, align: 'center' },
      { text: '116.8 A', x: 319, y: 109, align: 'center' }
    ],
    rich: [{ x: 375, y: 40, font: RAMP_FONT, parts: [{ t: 'Ramp rate: ', c: '#333' }, { t: '3.8 A/s', c: C.red }] }]
  }
});

makePanel('bRight', {
  xMax: 10, xStep: 1, yMax: 0.0012, yStep: 0.0002, yDigits: 4,
  yAxisW: 55, xAxisH: 31, padTop: 28, padRight: 146,
  datasets: rightSeries([RB_A46, RB_B42, RB_C38], [NB_A46, NB_B42, NB_C38], [NB_A46_M, NB_B42_M, NB_C38_M], NOISE_START_B),
  legend: { x: 218, y: 30, w: 162, h: 45, l0: 11, l1: 38, tx: 41, lineW: 1.6, font: RIGHT_LEGEND_FONT },
  notes: rightNotes(
    { box: { x: 392, y: 50, w: 103, h: 18 }, text: 'Ramp rate: 3.8 A/s' },
    { box: { x: 393, y: 171, w: 107, h: 18 }, text: 'Ramp rate: 0.93 A/s' },
    [
      { text: '0.68 mV → Mba: 0.181 mH', x: 388, y: 91 },
      { text: '0.67 mV → L: 0.178 mH', x: 388, y: 117 },
      { text: '0.56 mV → Mbc: 0.146 mH', x: 388, y: 142 },
      { text: '0.17 mV → Mba: 0.18 mH', x: 388, y: 201 },
      { text: '0.166 mV → L: 0.177 mH', x: 388, y: 227 },
      { text: '0.138 mV → Mbc: 0.145 mH', x: 388, y: 251 }
    ],
    [
      { at: [8.56, 0.000685], to: [385, 84], color: '#777' },
      { at: [9.47, 0.00066], to: [385, 112], color: '#f28a80' },
      { at: [9.47, 0.000545], to: [385, 137], color: '#8090f0' },
      { at: [9.4, 0.000196], to: [385, 197], color: '#777' },
      { at: [9.6, 0.00018], to: [385, 222], color: '#f28a80' },
      { at: [9.9, 0.00012], to: [385, 247], color: '#8090f0' }
    ])
});

// ── (c) ──
makePanel('cLeft', {
  xMax: 113, xStep: 10, yMax: 0.007, yStep: 0.001, yDigits: 3,
  yAxisW: 58, xAxisH: 28, padTop: 32, padRight: 18,
  datasets: leftSeries([PC_A46_T1, PC_A23_T2, PC_B42_T1, PC_B21_T2, PC_C38_T1, PC_C19_T2], PC_CRIT, 0.007),
  legend: { x: 83, y: 60, w: 192, h: 95, l0: 8, l1: 37, tx: 40, lineW: 2, font: LEFT_LEGEND_FONT },
  notes: {
    font: "8px 'Liberation Serif'",
    leaders: [{ at: PC_CRIT, to: [364, 142], color: '#888' }],
    boxes: [{ x: 287, y: 144, w: 76, h: 26 }],
    texts: [
      { text: 'Critical current:', x: 325, y: 152, align: 'center' },
      { text: '111.5 A', x: 325, y: 163, align: 'center' }
    ],
    rich: [{ x: 370, y: 43, font: RAMP_FONT, parts: [{ t: 'Ramp rate: ', c: '#333' }, { t: '3.8 A/s', c: C.red }] }]
  }
});

makePanel('cRight', {
  xMax: 10, xStep: 1, yMax: 0.0012, yStep: 0.0002, yDigits: 4,
  yAxisW: 43, xAxisH: 28, padTop: 32, padRight: 157,
  datasets: rightSeries([RC_A46, RC_B42, RC_C38], [NC_A46, NC_B42, NC_C38], [NC_A46_M, NC_B42_M, NC_C38_M], NOISE_START_C),
  legend: { x: 208, y: 36, w: 164, h: 42, l0: 11, l1: 38, tx: 41, lineW: 1.6, font: RIGHT_LEGEND_FONT },
  notes: rightNotes(
    { box: { x: 389, y: 55, w: 107, h: 18 }, text: 'Ramp rate: 3.8 A/s' },
    { box: { x: 389, y: 179, w: 110, h: 19 }, text: 'Ramp rate: 0.94 A/s' },
    [
      { text: '0.576 mV → Mca: 0.151 mH', x: 383, y: 97 },
      { text: '0.57 mV → Mcb: 0.15 mH', x: 380, y: 124 },
      { text: '0.554 mV → L: 0.145 mH', x: 388, y: 149 },
      { text: '0.14 mV → Mca: 0.148 mH', x: 387, y: 209 },
      { text: '0.138 mV → Mcb: 0.147 mH', x: 380, y: 236 },
      { text: '0.133 mV → L: 0.142 mH', x: 390, y: 261 }
    ],
    [
      { at: [8.78, 0.000575], to: [382, 98], color: '#777' },
      { at: [9.39, 0.000558], to: [380, 123], color: '#f28a80' },
      { at: [9.9, 0.000533], to: [387, 147], color: '#8090f0' },
      { at: [9.6, 0.000167], to: [383, 207], color: '#777' },
      { at: [9.8, 0.00016], to: [380, 235], color: '#f28a80' },
      { at: [9.9, 0.00011], to: [387, 262], color: '#8090f0' }
    ])
});
</script>
</body>
</html>
